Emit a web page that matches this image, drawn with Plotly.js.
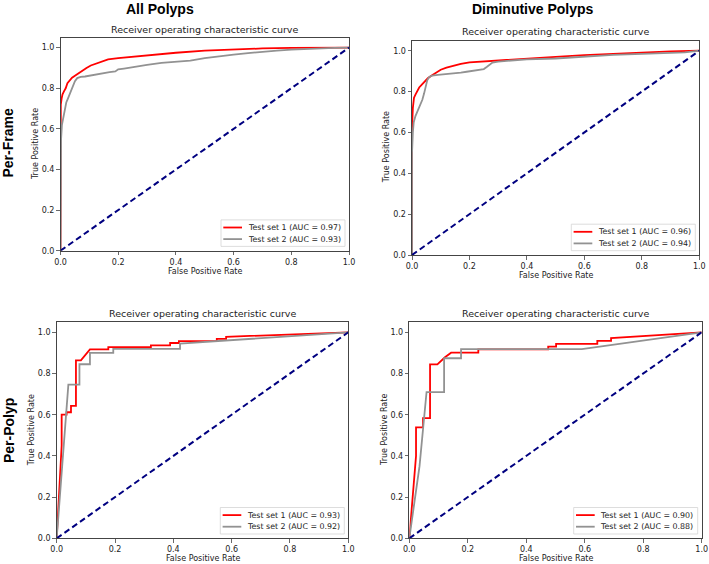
<!DOCTYPE html>
<html>
<head>
<meta charset="utf-8">
<script src="https://cdn.plot.ly/plotly-3.0.1.min.js"></script>
<style>html,body{margin:0;padding:0;background:#fff;}#chart{width:709px;height:564px;}</style>
</head>
<body>
<div id="chart"></div>
<script>
// ---------- data ----------
const columnTitles = ["All Polyps", "Diminutive Polyps"];
const rowTitles = ["Per-Frame", "Per-Polyp"];
const panelTitle = "Receiver operating characteristic curve";
const seriesNames = ["Test set 1", "Test set 2"];
const aucValues = [[0.97, 0.93], [0.96, 0.94], [0.93, 0.92], [0.90, 0.88]];
const tickValues = [0, 0.2, 0.4, 0.6, 0.8, 1.0];
const chanceLine = [0, 1];

// Per-Frame, All Polyps
const fpr1a = [0, 0, 0.001, 0.004, 0.007, 0.012, 0.018, 0.024, 0.032, 0.04, 0.05, 0.06, 0.075, 0.09, 0.105, 0.125, 0.145, 0.165, 0.2, 0.25, 0.3, 0.4, 0.5, 0.6, 0.7, 0.8, 0.9, 1.0];
const tpr1a = [0, 0.6, 0.72, 0.75, 0.77, 0.785, 0.80, 0.825, 0.84, 0.852, 0.862, 0.872, 0.885, 0.9, 0.912, 0.922, 0.933, 0.942, 0.948, 0.955, 0.962, 0.975, 0.985, 0.992, 0.996, 0.999, 1.0, 1.0];
const fpr1b = [0, 0, 0.002, 0.005, 0.01, 0.015, 0.02, 0.026, 0.032, 0.038, 0.045, 0.05, 0.058, 0.07, 0.085, 0.1, 0.12, 0.14, 0.17, 0.19, 0.2, 0.22, 0.26, 0.3, 0.35, 0.4, 0.45, 0.5, 0.55, 0.6, 0.65, 0.7, 0.75, 0.8, 0.85, 0.9, 0.95, 1.0];
const tpr1b = [0, 0.45, 0.55, 0.62, 0.66, 0.70, 0.73, 0.75, 0.77, 0.79, 0.815, 0.835, 0.85, 0.856, 0.858, 0.862, 0.868, 0.875, 0.88, 0.883, 0.893, 0.897, 0.907, 0.915, 0.925, 0.932, 0.936, 0.948, 0.958, 0.966, 0.973, 0.98, 0.985, 0.99, 0.994, 0.998, 0.999, 1.0];

// Per-Frame, Diminutive Polyps
const fpr2a = [0, 0, 0.003, 0.007, 0.012, 0.018, 0.025, 0.035, 0.045, 0.055, 0.07, 0.085, 0.1, 0.12, 0.145, 0.17, 0.2, 0.25, 0.3, 0.4, 0.5, 0.6, 0.7, 0.8, 0.9, 1.0];
const tpr2a = [0, 0.62, 0.72, 0.77, 0.785, 0.80, 0.82, 0.835, 0.85, 0.865, 0.88, 0.895, 0.907, 0.917, 0.927, 0.935, 0.943, 0.948, 0.952, 0.962, 0.97, 0.978, 0.985, 0.992, 0.997, 1.0];
const fpr2b = [0, 0, 0.003, 0.006, 0.012, 0.018, 0.024, 0.03, 0.036, 0.042, 0.048, 0.053, 0.06, 0.07, 0.09, 0.11, 0.13, 0.15, 0.17, 0.19, 0.21, 0.23, 0.25, 0.26, 0.27, 0.28, 0.3, 0.35, 0.4, 0.5, 0.6, 0.7, 0.8, 0.9, 0.95, 1.0];
const tpr2b = [0, 0.5, 0.6, 0.65, 0.68, 0.70, 0.72, 0.74, 0.76, 0.79, 0.82, 0.855, 0.872, 0.878, 0.882, 0.884, 0.886, 0.89, 0.893, 0.897, 0.902, 0.906, 0.91, 0.92, 0.932, 0.942, 0.947, 0.953, 0.958, 0.962, 0.972, 0.98, 0.985, 0.988, 0.992, 1.0];

// Per-Polyp, All Polyps
const fpr3a = [0, 0.012, 0.017, 0.017, 0.034, 0.034, 0.049, 0.049, 0.066, 0.066, 0.083, 0.114, 0.177, 0.177, 0.323, 0.323, 0.389, 0.389, 0.419, 0.419, 0.549, 0.549, 0.581, 0.581, 1.0];
const tpr3a = [0, 0.3, 0.45, 0.6, 0.6, 0.612, 0.612, 0.643, 0.643, 0.864, 0.864, 0.917, 0.917, 0.928, 0.928, 0.937, 0.937, 0.948, 0.948, 0.957, 0.957, 0.968, 0.968, 0.978, 1.0];
const fpr3b = [0, 0.04, 0.078, 0.078, 0.114, 0.114, 0.194, 0.194, 0.423, 0.423, 1.0];
const tpr3b = [0, 0.746, 0.746, 0.845, 0.845, 0.9, 0.9, 0.92, 0.92, 0.945, 1.0];

// Per-Polyp, Diminutive Polyps
const fpr4a = [0, 0.015, 0.023, 0.023, 0.047, 0.047, 0.071, 0.071, 0.096, 0.122, 0.143, 0.236, 0.236, 0.475, 0.475, 0.502, 0.502, 0.643, 0.643, 0.69, 0.69, 1.0];
const tpr4a = [0, 0.25, 0.4, 0.538, 0.538, 0.583, 0.583, 0.844, 0.844, 0.879, 0.901, 0.901, 0.917, 0.917, 0.93, 0.93, 0.944, 0.944, 0.958, 0.958, 0.972, 1.0];
const fpr4b = [0, 0.035, 0.059, 0.119, 0.119, 0.177, 0.177, 0.59, 1.0];
const tpr4b = [0, 0.35, 0.71, 0.71, 0.874, 0.874, 0.918, 0.918, 1.0];

const panels = [
  {a: [fpr1a, tpr1a], b: [fpr1b, tpr1b]},
  {a: [fpr2a, tpr2a], b: [fpr2b, tpr2b]},
  {a: [fpr3a, tpr3a], b: [fpr3b, tpr3b]},
  {a: [fpr4a, tpr4a], b: [fpr4b, tpr4b]}
];

// ---------- layout geometry (pixels) ----------
const W = 709, H = 564;
const boxes = [
  {l: 60.5, r: 349.0, t: 37.5, b: 250.7},
  {l: 412.0, r: 699.3, t: 40.5, b: 255.0},
  {l: 56.7, r: 348.3, t: 322.0, b: 538.3},
  {l: 409.3, r: 701.7, t: 322.0, b: 538.3}
];
const colors = ["#ff0000", "#929292"];
const navy = "#000080";
const FONT = "DejaVu Sans, sans-serif";
const px = v => v / W;
const py = v => 1 - v / H;

const traces = [];
const layout = {
  width: W, height: H,
  margin: {l: 0, r: 0, t: 0, b: 0},
  paper_bgcolor: "#ffffff", plot_bgcolor: "#ffffff",
  showlegend: false,
  font: {family: FONT, size: 8, color: "#222"},
  annotations: [], shapes: []
};

panels.forEach((p, i) => {
  const n = i === 0 ? "" : String(i + 1);
  const xa = "x" + n, ya = "y" + n;
  const bx = boxes[i];
  const axisCommon = {
    showgrid: false, zeroline: false,
    showline: true, mirror: true, linecolor: "#444", linewidth: 1,
    ticks: "outside", ticklen: 3.5, tickwidth: 0.8, tickcolor: "#444",
    tickvals: tickValues, tickformat: ".1f",
    tickfont: {family: FONT, size: 8, color: "#222"},
    fixedrange: true
  };
  layout["xaxis" + n] = Object.assign({}, axisCommon, {
    domain: [px(bx.l), px(bx.r)], range: [0, 1], anchor: ya
  });
  layout["yaxis" + n] = Object.assign({}, axisCommon, {
    domain: [py(bx.b), py(bx.t)], range: [0, 1.05], anchor: xa
  });

  traces.push({x: p.a[0], y: p.a[1], xaxis: xa, yaxis: ya, type: "scatter", mode: "lines",
    name: seriesNames[0] + " (AUC = " + aucValues[i][0].toFixed(2) + ")",
    line: {color: colors[0], width: 1.8}});
  traces.push({x: p.b[0], y: p.b[1], xaxis: xa, yaxis: ya, type: "scatter", mode: "lines",
    name: seriesNames[1] + " (AUC = " + aucValues[i][1].toFixed(2) + ")",
    line: {color: colors[1], width: 1.8}});
  traces.push({x: chanceLine, y: chanceLine, xaxis: xa, yaxis: ya, type: "scatter", mode: "lines",
    name: "chance", line: {color: navy, width: 2, dash: "6px,3.5px"}});

  const cx = (bx.l + bx.r) / 2, cy = (bx.t + bx.b) / 2;
  // panel title
  layout.annotations.push({text: panelTitle, xref: "paper", yref: "paper", x: px(cx), y: py(bx.t - 8.5),
    xanchor: "center", yanchor: "middle", showarrow: false, font: {family: FONT, size: 9.5, color: "#222"}});
  // axis titles
  layout.annotations.push({text: "False Positive Rate", xref: "paper", yref: "paper", x: px(cx), y: py(bx.b + 20.3),
    xanchor: "center", yanchor: "middle", showarrow: false, font: {family: FONT, size: 8, color: "#222"}});
  layout.annotations.push({text: "True Positive Rate", xref: "paper", yref: "paper", x: px(bx.l - 25.5), y: py(cy),
    xanchor: "center", yanchor: "middle", textangle: -90, showarrow: false, font: {family: FONT, size: 8, color: "#222"}});

  // legend box (drawn inside the lower right corner)
  const lr = bx.r - 4, lb = bx.b - 4.3, lw = 124, lh = 26.5;
  const ll = lr - lw, lt = lb - lh;
  layout.shapes.push({type: "rect", xref: "paper", yref: "paper", x0: px(ll), x1: px(lr), y0: py(lb), y1: py(lt),
    line: {color: "#d4d4d4", width: 0.8}, fillcolor: "rgba(255,255,255,0.85)", layer: "above"});
  [0, 1].forEach(k => {
    const rowY = lt + 7.6 + k * 11.6;
    layout.shapes.push({type: "line", xref: "paper", yref: "paper", x0: px(ll + 2.3), x1: px(ll + 21), y0: py(rowY), y1: py(rowY),
      line: {color: colors[k], width: 1.8}, layer: "above"});
    layout.annotations.push({text: seriesNames[k] + " (AUC = " + aucValues[i][k].toFixed(2) + ")",
      xref: "paper", yref: "paper", x: px(ll + 24.5), y: py(rowY), xanchor: "left", yanchor: "middle",
      showarrow: false, font: {family: FONT, size: 7.9, color: "#222"}});
  });
});

// big column / row headings
const BIG = {family: "Liberation Sans, Arial, sans-serif", size: 14, color: "#000"};
layout.annotations.push({text: "<b>" + columnTitles[0] + "</b>", xref: "paper", yref: "paper", x: px(160), y: py(9),
  xanchor: "center", yanchor: "middle", showarrow: false, font: BIG});
layout.annotations.push({text: "<b>" + columnTitles[1] + "</b>", xref: "paper", yref: "paper", x: px(533), y: py(9),
  xanchor: "center", yanchor: "middle", showarrow: false, font: BIG});
layout.annotations.push({text: "<b>" + rowTitles[0] + "</b>", xref: "paper", yref: "paper", x: px(8), y: py(143.5),
  xanchor: "center", yanchor: "middle", textangle: -90, showarrow: false, font: BIG});
layout.annotations.push({text: "<b>" + rowTitles[1] + "</b>", xref: "paper", yref: "paper", x: px(9), y: py(431),
  xanchor: "center", yanchor: "middle", textangle: -90, showarrow: false, font: BIG});

Plotly.newPlot("chart", traces, layout, {displayModeBar: false, staticPlot: true});
</script>
</body>
</html>
